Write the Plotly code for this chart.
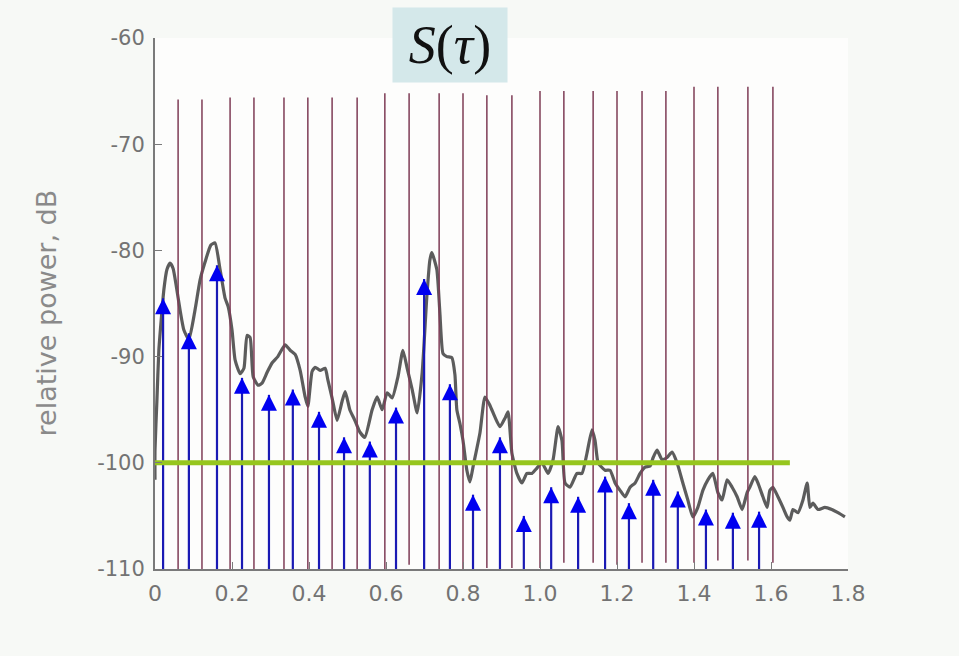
import plotly.graph_objects as go

# ---------------- data ----------------
# measured power delay profile (scanned gray curve)
curve_delay = [0.000, 0.000, 0.005, 0.010, 0.016, 0.023, 0.031, 0.039, 0.047, 0.055,
               0.065, 0.075, 0.088, 0.104, 0.117, 0.130, 0.145, 0.156, 0.169, 0.182,
               0.190, 0.200, 0.208, 0.221, 0.231, 0.239, 0.247, 0.255, 0.268, 0.278,
               0.291, 0.304, 0.319, 0.338, 0.351, 0.364, 0.377, 0.390, 0.397, 0.408,
               0.416, 0.429, 0.442, 0.449, 0.460, 0.473, 0.486, 0.494, 0.506, 0.519,
               0.532, 0.545, 0.564, 0.577, 0.590, 0.603, 0.616, 0.631, 0.644, 0.655,
               0.668, 0.681, 0.694, 0.706, 0.714, 0.719, 0.732, 0.740, 0.748, 0.758,
               0.771, 0.779, 0.784, 0.792, 0.800, 0.810, 0.818, 0.826, 0.844, 0.857,
               0.870, 0.883, 0.896, 0.909, 0.917, 0.927, 0.940, 0.953, 0.966, 0.979,
               0.992, 1.005, 1.021, 1.034, 1.047, 1.057, 1.065, 1.078, 1.096, 1.109,
               1.122, 1.135, 1.143, 1.151, 1.169, 1.182, 1.195, 1.208, 1.221, 1.234,
               1.247, 1.260, 1.273, 1.286, 1.294, 1.304, 1.317, 1.330, 1.343, 1.356,
               1.371, 1.384, 1.397, 1.410, 1.423, 1.436, 1.449, 1.462, 1.473, 1.486,
               1.499, 1.512, 1.525, 1.538, 1.545, 1.558, 1.566, 1.579, 1.590, 1.597,
               1.605, 1.618, 1.631, 1.642, 1.649, 1.657, 1.670, 1.683, 1.694, 1.701,
               1.709, 1.722, 1.740, 1.758, 1.774, 1.792]
curve_power = [-101.6, -98.8, -94.1, -89.4, -86.6, -83.7, -81.8, -81.2, -81.7, -83.3,
               -85.6, -87.5, -88.4, -85.6, -82.8, -81.1, -79.5, -79.3, -81.8, -84.5,
               -85.3, -87.5, -90.3, -91.6, -91.1, -88.0, -88.2, -91.9, -92.7, -92.5,
               -91.5, -90.6, -90.0, -88.9, -89.4, -89.8, -91.3, -93.8, -94.7, -91.4,
               -91.0, -91.3, -91.1, -92.2, -93.9, -96.0, -94.2, -93.3, -95.0, -96.0,
               -97.1, -97.6, -95.0, -93.8, -95.0, -93.4, -93.9, -91.9, -89.4, -91.1,
               -93.1, -95.3, -91.5, -84.4, -80.9, -80.2, -81.8, -85.9, -89.7, -90.0,
               -90.1, -91.7, -95.0, -96.3, -97.9, -100.7, -101.8, -100.4, -97.2, -93.8,
               -94.6, -95.7, -96.6, -95.8, -95.2, -99.1, -101.0, -101.9, -101.0, -101.0,
               -100.5, -100.0, -101.0, -99.7, -96.6, -97.9, -101.9, -102.3, -101.0, -101.0,
               -99.1, -96.9, -97.9, -100.0, -100.7, -100.7, -101.9, -102.6, -103.2, -102.3,
               -101.9, -101.0, -100.4, -100.3, -99.5, -98.8, -99.7, -99.5, -99.0, -100.0,
               -101.9, -103.5, -105.1, -104.2, -102.6, -101.6, -101.0, -102.8, -103.5, -101.6,
               -102.3, -103.2, -104.4, -102.8, -102.3, -101.3, -101.9, -103.2, -104.2, -102.6,
               -102.3, -103.2, -104.2, -105.1, -105.4, -104.4, -104.7, -103.5, -101.9, -104.2,
               -103.8, -104.4, -104.2, -104.4, -104.7, -105.1]

# tap-delay grid (vertical maroon lines)
grid_delay = [0.060, 0.122, 0.195, 0.257, 0.335, 0.397, 0.460, 0.525, 0.597, 0.660,
              0.738, 0.800, 0.862, 0.927, 1.000, 1.062, 1.138, 1.200, 1.265, 1.327,
              1.400, 1.462, 1.540, 1.605]
grid_top = [-65.8, -65.8, -65.6, -65.6, -65.6, -65.6, -65.6, -65.6, -65.2, -65.2,
            -65.2, -65.2, -65.4, -65.4, -65.0, -65.0, -65.0, -65.0, -65.0, -65.0,
            -64.6, -64.6, -64.6, -64.6]
grid_bottom = [-110.0, -110.0, -110.0, -110.0, -110.0, -110.0, -110.0, -110.0, -110.0, -109.6,
               -110.0, -110.0, -109.9, -109.9, -109.9, -109.4, -109.4, -109.6, -109.4, -109.4,
               -109.4, -109.2, -109.2, -109.4]

# tap amplitudes (blue arrows)
tap_delay = [0.021, 0.088, 0.161, 0.226, 0.296, 0.358, 0.426, 0.491, 0.558, 0.626,
             0.699, 0.766, 0.826, 0.896, 0.958, 1.029, 1.099, 1.169, 1.231, 1.294,
             1.358, 1.431, 1.501, 1.569]
tap_power = [-84.5, -87.8, -81.4, -92.0, -93.6, -93.1, -95.2, -97.6, -98.0, -94.8,
             -82.7, -92.6, -103.0, -97.6, -105.0, -102.3, -103.2, -101.3, -103.8, -101.6,
             -102.7, -104.4, -104.7, -104.6]

# threshold
threshold_db = -100.0
threshold_end = 1.649

y_ticks = [-60, -70, -80, -90, -100, -110]
y_tick_text = ["-60", "-70", "-80", "-90", "-100", "-110"]
x_ticks = [0, 0.2, 0.4, 0.6, 0.8, 1.0, 1.2, 1.4, 1.6, 1.8]
x_tick_text = ["0", "0.2", "0.4", "0.6", "0.8", "1.0", "1.2", "1.4", "1.6", "1.8"]
y_title = "relative power, dB"
box_title = "<i>S</i>(<i>τ</i>)"
y_floor = -110

# ---------------- figure ----------------
fig = go.Figure()

fig.add_trace(go.Scatter(
    x=curve_delay, y=curve_power, mode="lines",
    line=dict(color="rgba(70,70,70,0.88)", width=3.2, shape="spline", smoothing=0.5),
    hoverinfo="skip"))

gx, gy = [], []
for d, t, b in zip(grid_delay, grid_top, grid_bottom):
    gx += [d, d, None]
    gy += [b, t, None]
fig.add_trace(go.Scatter(x=gx, y=gy, mode="lines",
                         line=dict(color="#7e3c56", width=1.5), hoverinfo="skip"))

sx, sy = [], []
for d, p in zip(tap_delay, tap_power):
    sx += [d, d, None]
    sy += [y_floor, p, None]
fig.add_trace(go.Scatter(x=sx, y=sy, mode="lines",
                         line=dict(color="#1a1ab4", width=2.2), hoverinfo="skip"))
fig.add_trace(go.Scatter(x=tap_delay, y=tap_power, mode="markers",
                         marker=dict(symbol="arrow-up", size=16, color="#0000f0",
                                     line=dict(width=0)),
                         cliponaxis=False, hoverinfo="skip"))

fig.add_trace(go.Scatter(x=[0, threshold_end], y=[threshold_db, threshold_db],
                         mode="lines", line=dict(color="#96c61e", width=5),
                         hoverinfo="skip"))

axis_font = dict(family="DejaVu Sans", size=21, color="#737373")
fig.update_layout(
    width=959, height=656,
    margin=dict(l=155, r=111, t=38, b=87),
    paper_bgcolor="#f7f9f6",
    plot_bgcolor="#fdfdfc",
    showlegend=False,
    xaxis=dict(range=[0, 1.8], tickvals=x_ticks, ticktext=x_tick_text,
               showgrid=False, zeroline=False, showline=True, linecolor="#7a7a7a",
               linewidth=2, ticks="inside", ticklen=7, tickcolor="#7a7a7a",
               tickfont=dict(family="DejaVu Sans", size=22, color="#737373"),
               ticklabelstandoff=4),
    yaxis=dict(range=[-110, -60], tickvals=y_ticks, ticktext=y_tick_text,
               showgrid=False, zeroline=False, showline=True, linecolor="#7a7a7a",
               linewidth=2, ticks="inside", ticklen=7, tickcolor="#7a7a7a",
               tickfont=axis_font, ticklabelstandoff=4),
    annotations=[
        dict(text=y_title, xref="paper", yref="paper", x=-0.156, y=0.483,
             xanchor="center", yanchor="middle", textangle=-90, showarrow=False,
             font=dict(family="DejaVu Sans", size=27, color="#8a8a8a")),
        dict(text=box_title, xref="paper", yref="paper", x=0.4257, y=0.9868,
             xanchor="center", yanchor="middle", showarrow=False,
             width=114, height=74, bgcolor="#d4e8ea", borderpad=0,
             font=dict(family="Liberation Serif", size=54, color="#111111")),
    ],
)

fig.write_html("out.html")
